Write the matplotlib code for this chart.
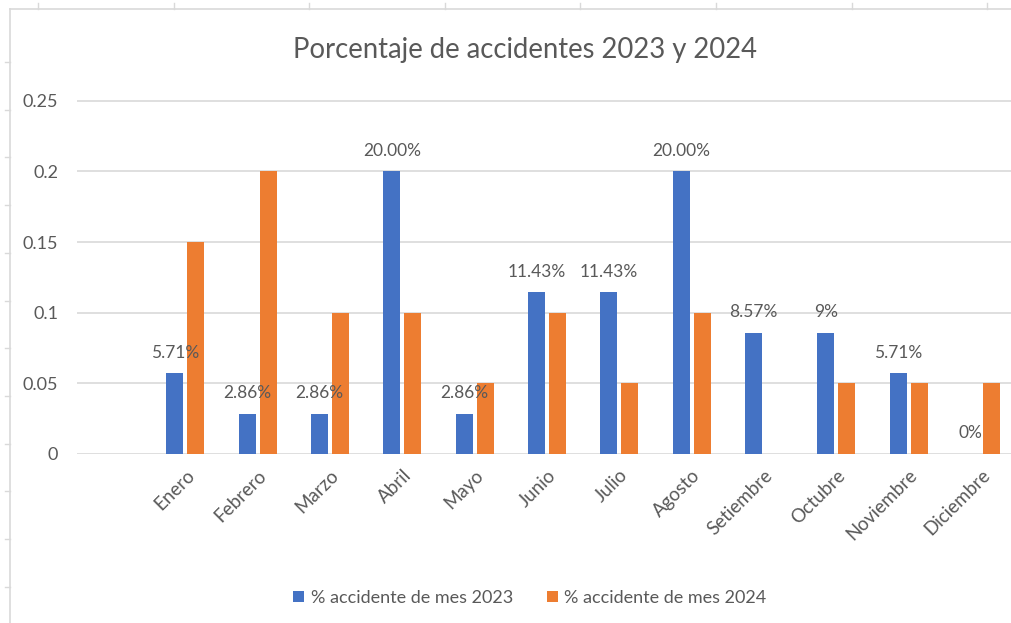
import numpy as np
import matplotlib.pyplot as plt
from matplotlib.lines import Line2D

# datos
meses = ["Enero", "Febrero", "Marzo", "Abril", "Mayo", "Junio", "Julio",
         "Agosto", "Setiembre", "Octubre", "Noviembre", "Diciembre"]
pct_2023 = [0.0571, 0.0286, 0.0286, 0.2, 0.0286, 0.1143, 0.1143,
            0.2, 0.0857, 0.0857, 0.0571, 0.0]
pct_2024 = [0.15, 0.2, 0.1, 0.1, 0.05, 0.1, 0.05, 0.1, 0.0, 0.05, 0.05, 0.05]
etiquetas_2023 = ["5.71%", "2.86%", "2.86%", "20.00%", "2.86%", "11.43%",
                  "11.43%", "20.00%", "8.57%", "9%", "5.71%", "0%"]

azul = "#4472c4"
naranja = "#ed7d31"
gris = "#595959"

plt.rcParams['font.family'] = ['Lato', 'DejaVu Sans']

W, H = 1012, 623
fig = plt.figure(figsize=(W / 100, H / 100), dpi=100)

# marco de la hoja de cálculo
fig.add_artist(Line2D([10 / W, 10 / W], [0, 1 - 9 / H], color="#d9d9d9", lw=1.2))
fig.add_artist(Line2D([10 / W, 1], [1 - 9 / H, 1 - 9 / H], color="#d9d9d9", lw=1.2))
for xp in np.arange(38, W, 135.6):
    fig.add_artist(Line2D([xp / W, xp / W], [1 - 9 / H, 1 - 3 / H], color="#d9d9d9", lw=1))
for yp in np.arange(62, H, 47.7):
    fig.add_artist(Line2D([5 / W, 10 / W], [1 - yp / H, 1 - yp / H], color="#d9d9d9", lw=1))

ax = fig.add_axes([77 / W, (H - 454) / H, (W - 77) / W, 354 / H])

x = np.arange(len(meses))
ancho = 0.235
desp = 0.145
b1 = ax.bar(x - desp, pct_2023, ancho, color=azul, label="% accidente de mes 2023", zorder=3)
b2 = ax.bar(x + desp, pct_2024, ancho, color=naranja, label="% accidente de mes 2024", zorder=3)

# etiquetas de datos (solo 2023)
for xi, v, t in zip(x - desp, pct_2023, etiquetas_2023):
    ax.annotate(t, (xi, v), xytext=(0, 9), textcoords="offset points",
                ha="center", va="bottom", fontsize=12.5, color=gris, zorder=4)

ax.set_xlim(-1.5, 11.43)
ax.set_ylim(0, 0.2505)
ax.set_yticks([0, 0.05, 0.1, 0.15, 0.2, 0.25])
ax.set_yticklabels(["0", "0.05", "0.1", "0.15", "0.2", "0.25"])
ax.set_xticks(x)
ax.set_xticklabels(meses, rotation=45, ha="right", rotation_mode="anchor")
ax.tick_params(axis="both", length=0, colors=gris)
ax.tick_params(axis="y", pad=13.5, labelsize=13)
ax.tick_params(axis="x", pad=9, labelsize=13.5)
ax.grid(axis="y", color="#d9d9d9", lw=1.2, zorder=0)
for s in ax.spines.values():
    s.set_visible(False)

fig.text(525 / W, 1 - 50 / H, "Porcentaje de accidentes 2023 y 2024",
         ha="center", va="center", fontsize=19.8, color=gris)

fig.legend(handles=[b1, b2], loc="center", bbox_to_anchor=(530 / W, 1 - 598 / H),
           ncol=2, frameon=False, fontsize=13, labelcolor=gris,
           handlelength=0.6, handleheight=0.6, columnspacing=1.9, handletextpad=0.35)

fig.savefig("out.png", dpi=100)
